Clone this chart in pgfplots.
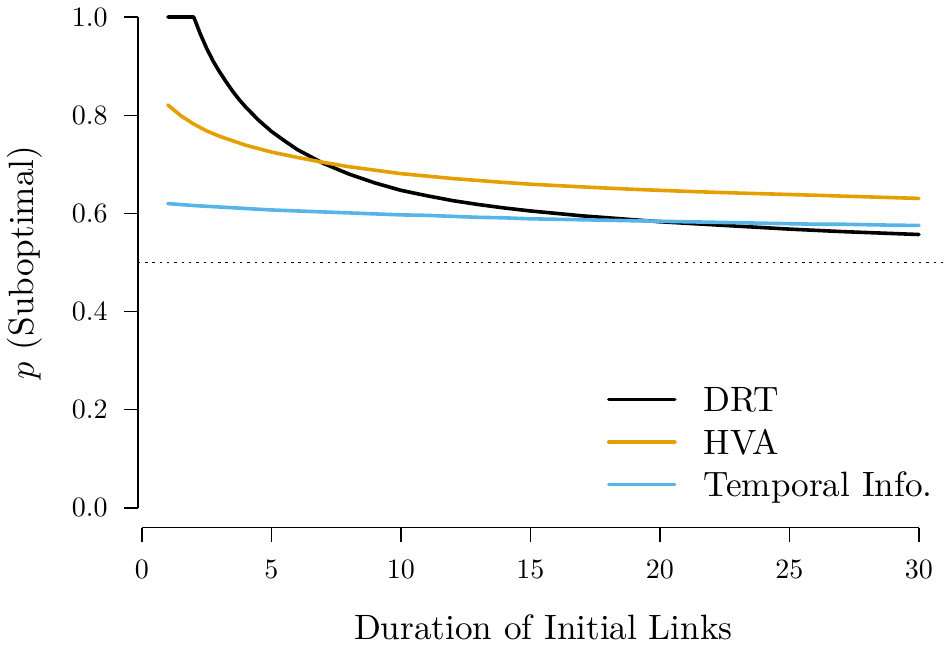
\documentclass[border=0pt]{standalone}
\usepackage{fontspec}
\setmainfont{lmroman10-regular.otf}[ItalicFont=lmroman10-italic.otf, BoldFont=lmroman10-bold.otf]
\usepackage{fix-cm}
\usepackage{pgfplots}
\usepackage{pgfplotstable}
\pgfplotsset{compat=1.18}
\definecolor{hva}{HTML}{E69F00}
\definecolor{tinfo}{HTML}{56B4E9}
\pgfplotstableread{
x y
1 1.000
2 1.000
2.25 0.966
2.5 0.936
2.75 0.910
3 0.888
3.25 0.868
3.5 0.849
3.75 0.832
4 0.817
4.5 0.790
5 0.767
5.5 0.748
6 0.730
6.5 0.716
7 0.702
7.5 0.691
8 0.680
9 0.662
10 0.647
11 0.636
12 0.626
13 0.618
14 0.611
15 0.605
16 0.600
17 0.595
18 0.591
19 0.587
20 0.583
21 0.580
22 0.577
23 0.574
24 0.571
25 0.568
26 0.5655
27 0.563
28 0.561
29 0.559
30 0.557
}\drt
\pgfplotstableread{
x y
1 0.821
1.5 0.799
2 0.782
2.5 0.768
3 0.757
3.5 0.748
4 0.739
5 0.725
6 0.714
7 0.704
8 0.695
9 0.688
10 0.681
11 0.676
12 0.671
13 0.667
14 0.663
15 0.6595
16 0.6567
17 0.654
18 0.6515
19 0.649
20 0.647
21 0.645
22 0.6432
23 0.6415
24 0.640
25 0.6385
26 0.6370
27 0.6353
28 0.6337
29 0.6321
30 0.6305
}\hvadata
\pgfplotstableread{
x y
1 0.620
2 0.616
3 0.613
4 0.610
5 0.607
6 0.605
7 0.603
8 0.601
9 0.599
10 0.597
11 0.596
12 0.594
13 0.592
14 0.591
15 0.589
16 0.588
17 0.587
18 0.586
19 0.585
20 0.584
21 0.583
22 0.582
23 0.581
24 0.580
25 0.579
26 0.578
27 0.578
28 0.577
29 0.576
30 0.5755
}\tmpdata
\begin{document}
\begin{tikzpicture}
\useasboundingbox (0,0) rectangle (474bp,325bp);
\begin{axis}[
  at={(68.9bp,61.2bp)}, anchor=south west,
  scale only axis, width=405.6bp, height=265.1bp,
  xmin=-0.16, xmax=31.16, ymin=-0.04, ymax=1.04,
  clip=false,
  separate axis lines, axis x line*=bottom, axis y line*=left,
  axis line style={draw=none},
  tick align=outside, major tick length=7bp,
  tick style={black, line width=0.7bp},
  xtick={0,5,10,15,20,25,30},
  xticklabels={0,5,10,15,20,25,30},
  ytick={0,0.2,0.4,0.6,0.8,1},
  yticklabels={0.0,0.2,0.4,0.6,0.8,1.0},
  tick label style={font=\fontsize{14bp}{17bp}\selectfont},
  xticklabel style={anchor=north, inner sep=0pt, yshift=-9bp},
  yticklabel style={anchor=east, inner sep=0pt, xshift=-7.9bp},
  every axis y label/.style={at={(axis description cs:-0.128,0.5)}, rotate=90, anchor=base, font=\fontsize{17.6bp}{21bp}\selectfont},
  every axis x label/.style={at={(axis description cs:0.5,-0.211)}, anchor=base, font=\fontsize{17.6bp}{21bp}\selectfont},
  xlabel={Duration of Initial Links},
  ylabel={$p$ (Suboptimal)},
  legend cell align=left,
  legend image code/.code={\draw[#1, line cap=round] (0bp,0bp) -- (33bp,0bp);},
  legend style={draw=none, fill=none, at={(axis description cs:0.5784,0.2639)}, anchor=north west,
    inner sep=0pt, outer sep=0pt, font=\fontsize{17.6bp}{21bp}\selectfont,
    /tikz/row sep=9.25bp, /tikz/column sep=13.5bp,
    nodes={inner sep=0pt, text height=12bp, text depth=0pt}},
]
\addplot[forget plot, black, line width=0.7bp, dash pattern=on 1.2bp off 2.45bp] coordinates {(-0.16,0.5) (31.16,0.5)};
\addplot[black, line width=1.8bp, line cap=round, line join=round] table[x=x, y=y] {\drt};
\addlegendentry{DRT}
\addplot[hva, line width=1.8bp, line cap=round, line join=round] table[x=x, y=y] {\hvadata};
\addlegendentry{HVA}
\addplot[tinfo, line width=1.8bp, line cap=round, line join=round] table[x=x, y=y] {\tmpdata};
\addlegendentry{Temporal Info.}
\draw[line width=0.7bp] (axis cs:0,-0.04) -- (axis cs:30,-0.04);
\draw[line width=0.7bp] (axis cs:-0.16,0) -- (axis cs:-0.16,1);
\end{axis}
\end{tikzpicture}
\end{document}
